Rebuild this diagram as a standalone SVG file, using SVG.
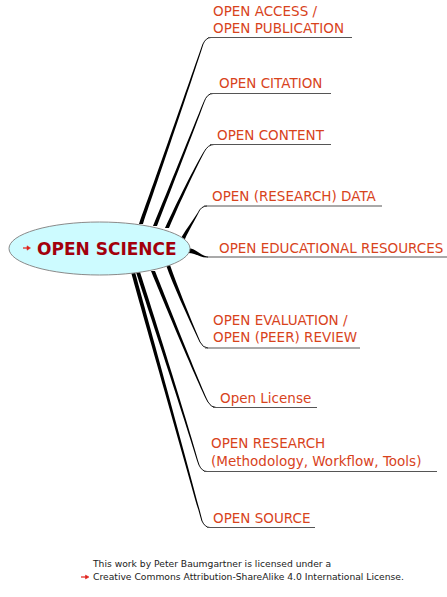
<svg xmlns="http://www.w3.org/2000/svg" width="447" height="597" viewBox="0 0 447 597">
<style>
.lbl{font-family:"DejaVu Sans","Verdana",sans-serif;font-size:13.5px;fill:#d8431c}
.br{fill:#000}
.el{fill:none;stroke:#111;stroke-width:1}
.ul{fill:none;stroke:#555;stroke-width:1.2}
.foot{font-family:"DejaVu Sans","Verdana",sans-serif;font-size:9.2px;fill:#222}
.arr{fill:#e0201a;stroke:#e0201a}
</style>
<rect width="447" height="597" fill="#fff"/>
<g id="connectors">
<!-- 1 access -->
<path class="br" d="M139,224 C155,180 190,80 202.5,44 L203.5,44 C192,80 158,180 143,224 Z"/>
<path class="el" d="M203,44 Q206,37.5 211,37.5"/>
<line class="ul" x1="208" y1="37.5" x2="352" y2="37.5"/>
<!-- 2 citation -->
<path class="br" d="M153,226 C168,190 192,130 203.5,102 L204.5,102 C194,130 171,190 157,226 Z"/>
<path class="el" d="M204,102 Q207,93.5 213,93.5"/>
<line class="ul" x1="210" y1="93.5" x2="331" y2="93.5"/>
<!-- 3 content -->
<path class="br" d="M165,228 C178,200 193,170 203.5,152 L204.5,152 C195,170 181,200 169,228 Z"/>
<path class="el" d="M204,152 Q208,144.5 214,144.5"/>
<line class="ul" x1="210" y1="144.5" x2="331" y2="144.5"/>
<!-- 4 data -->
<path class="br" d="M181,238 C187,228 193,220 197.5,213 L198.5,213 C195,220 189,230 185,239 Z"/>
<path class="el" d="M198,213 Q201,206 207,206"/>
<line class="ul" x1="204" y1="206" x2="382" y2="206"/>
<!-- 5 OER -->
<path class="br" d="M188,248 C197,249 201,256 208,256.5 L208,257.5 C200,258 196,253 188,253 Z"/>
<line class="ul" x1="207" y1="257" x2="447" y2="257"/>
<!-- 6 evaluation -->
<path class="br" d="M166,265 C173,285 187,315 199.5,342 L200.5,342 C189,315 177,285 170,265 Z"/>
<path class="el" d="M200,342 Q203,348 208,348"/>
<line class="ul" x1="205" y1="348" x2="360" y2="348"/>
<!-- 7 license -->
<path class="br" d="M151,271 C158,288 192,370 207.5,402 L208.5,402 C194,370 162,288 155,271 Z"/>
<path class="el" d="M208,402 Q211,407.5 216,407.5"/>
<line class="ul" x1="213" y1="407.5" x2="317" y2="407.5"/>
<!-- 8 research -->
<path class="br" d="M136,272 C145,300 185,420 198.5,465 L199.5,465 C187,420 149,300 140,272 Z"/>
<path class="el" d="M199,465 Q202,471.5 207,471.5"/>
<line class="ul" x1="204" y1="471.5" x2="437" y2="471.5"/>
<!-- 9 source -->
<path class="br" d="M131,272 C140,305 190,480 201.5,521 L202.5,521 C192,480 144,305 135,272 Z"/>
<path class="el" d="M202,521 Q205,527.5 210,527.5"/>
<line class="ul" x1="207" y1="527.5" x2="315" y2="527.5"/>
</g>
<g id="center">
<ellipse cx="99.5" cy="248.5" rx="90.5" ry="26.5" fill="#cdfbff" stroke="#8a8a8a" stroke-width="1"/>
<line class="arr" x1="23" y1="248" x2="28" y2="248" stroke-width="1.2"/>
<path class="arr" d="M27,245.8 L30.5,248 L27,250.2 Z" stroke-width="0.5"/>
<text x="37" y="255" font-family="DejaVu Sans, Verdana, sans-serif" font-size="17" font-weight="bold" fill="#a3000c">OPEN SCIENCE</text>
</g>
<g id="n1"><text class="lbl" x="213" y="16">OPEN ACCESS /</text><text class="lbl" x="213" y="33">OPEN PUBLICATION</text></g>
<g id="n2"><text class="lbl" x="219" y="88">OPEN CITATION</text></g>
<g id="n3"><text class="lbl" x="217" y="140">OPEN CONTENT</text></g>
<g id="n4"><text class="lbl" x="212" y="201">OPEN (RESEARCH) DATA</text></g>
<g id="n5"><text class="lbl" x="219" y="253">OPEN EDUCATIONAL RESOURCES</text></g>
<g id="n6"><text class="lbl" x="213" y="325">OPEN EVALUATION /</text><text class="lbl" x="213" y="342">OPEN (PEER) REVIEW</text></g>
<g id="n7"><text class="lbl" x="220" y="403">Open License</text></g>
<g id="n8"><text class="lbl" x="211" y="448">OPEN RESEARCH</text><text class="lbl" x="211" y="466">(Methodology, Workflow, Tools)</text></g>
<g id="n9"><text class="lbl" x="213" y="523">OPEN SOURCE</text></g>
<g id="footer">
<text class="foot" x="93" y="567">This work by Peter Baumgartner is licensed under a</text>
<line class="arr" x1="81" y1="577" x2="86" y2="577" stroke-width="1.2"/>
<path class="arr" d="M85.5,575 L89,577 L85.5,579 Z" stroke-width="0.5"/>
<text class="foot" x="93" y="580">Creative Commons Attribution-ShareAlike 4.0 International License.</text>
</g>
</svg>
